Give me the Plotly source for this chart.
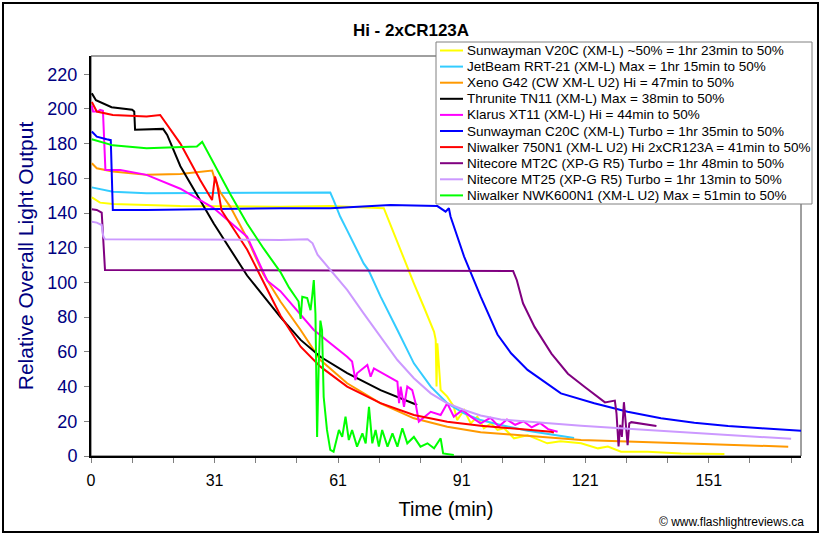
import plotly.graph_objects as go

# ---------------- data (time in minutes, relative output) ----------------
series_names = [
    "Sunwayman V20C (XM-L) ~50% = 1hr 23min to 50%",
    "JetBeam RRT-21 (XM-L) Max = 1hr 15min to 50%",
    "Xeno G42 (CW XM-L U2) Hi = 47min to 50%",
    "Thrunite TN11 (XM-L) Max = 38min to 50%",
    "Klarus XT11 (XM-L) Hi = 44min to 50%",
    "Sunwayman C20C (XM-L) Turbo = 1hr 35min to 50%",
    "Niwalker 750N1 (XM-L U2) Hi 2xCR123A = 41min to 50%",
    "Nitecore MT2C (XP-G R5) Turbo = 1hr 48min to 50%",
    "Nitecore MT25 (XP-G R5) Turbo = 1hr 13min to 50%",
    "Niwalker NWK600N1 (XM-L U2) Max = 51min to 50%",
]
series_colors = ["#FFFF00", "#33CCFF", "#FF9900", "#000000", "#FF00FF",
                 "#0000FF", "#FF0000", "#800080", "#CC99FF", "#00FF00"]

v20c_t = [0.2, 2.2, 5.3, 21.7, 46, 58.1, 71.1, 71.9, 74.4, 78.4, 80.8, 83.3, 83.7, 83.9, 84.1, 84.5,
          84.9, 86.5, 88.1, 88.9, 90.6, 92.2, 93.8, 95.4, 97.1, 98.7, 100.3, 102.7, 106, 110.8, 114,
          119, 123.1, 125.5, 128.7, 135.2, 143.3, 153.8]
v20c_v = [149, 146, 145.2, 144, 143.7, 144, 142.8, 138, 122.6, 99.5, 86, 71.6, 66.9, 40, 65, 49.6,
          38, 34.2, 28.4, 20.7, 26.5, 18.8, 22.7, 16, 18.8, 15, 16, 10.2, 12, 7.3, 8.5,
          7.3, 4.4, 5.4, 2.5, 2.5, 1.5, 1.2]

rrt21_t = [0.2, 5.3, 13.5, 46, 58.1, 58.9, 60.5, 62.2, 66.2, 67.4, 70.3, 74.4, 78.4, 82.5, 86.5,
           90.6, 94.6, 99.5, 106, 117.3]
rrt21_v = [154.8, 152.3, 151.4, 151.6, 151.8, 147.5, 138, 130, 111, 107, 92, 72.6, 53.4, 40, 30.4,
           24.6, 20.7, 17.9, 14.5, 10.4]

g42_t = [0.2, 1.4, 5.3, 13.5, 21.7, 28.6, 29.4, 30, 31.4, 33.8, 37.9, 41.8, 46, 50.9, 55.7, 62.2,
         70.3, 78.4, 86.5, 94.6, 119, 143.3, 169.3]
g42_v = [168.7, 165.8, 164, 162, 162.5, 164, 164.5, 160, 152, 143.7, 125.5, 105, 89, 72.6, 55.3, 41.9,
         30.4, 21.7, 16.9, 13.7, 9.2, 7.3, 5.4]

tn11_t = [0.2, 1.2, 5, 10, 10.5, 10.7, 17.5, 18.5, 21.7, 29.8, 37.9, 46, 50.9, 55.7, 62.2, 70.3, 79.2]
tn11_v = [209, 205, 201, 199.5, 198.5, 188, 188.5, 185, 167, 134, 104, 80, 66.9, 57.2, 47.8, 38, 29.4]

xt11_t = [0.2, 0.5, 1.7, 2.2, 2.9, 3.0, 3.4, 3.5, 7.1, 13.5, 21.7, 29.7, 37.9, 42.8, 46, 54.1, 62.2,
          63.4, 64.2, 64.6, 67.1, 67.9, 68.7, 74.4, 74.8, 75.2, 76, 76.8, 78, 78.8, 79.6, 82.5, 84.9,
          86.5, 88.1, 90.2, 92.2, 94.6, 97, 99, 101, 103, 105, 107, 109, 111, 113.3]
xt11_v = [202, 198.5, 198.5, 199.5, 199, 193.6, 166.7, 164.8, 164.8, 162, 154, 143, 126.4, 101, 95, 72.6, 57.2,
          54.4, 43.8, 47.7, 52.4, 45.7, 50.5, 42.8, 30.4, 40, 28.4, 40, 38, 30.5, 19.8, 25.5, 23.6,
          30.4, 22.7, 26.5, 22.7, 18.8, 22, 17, 21, 18, 20, 16.5, 19, 15.5, 14]

c20c_t = [0.2, 1.4, 3.8, 4.8, 5.3, 13.5, 46, 58.1, 72.7, 84.1, 86.1, 86.9, 87.3, 90.6, 94.6, 98.7,
          102, 106, 114.1, 122.2, 130.3, 138.4, 146.5, 154.7, 162.8, 172.5]
c20c_v = [187, 184, 182.5, 182, 141.8, 141.8, 142.8, 142.8, 144.7, 144, 140.8, 142.8, 138, 114.9, 92, 70,
          59.2, 49.6, 36.1, 30.4, 25.5, 21.7, 19.2, 17.3, 16, 14.6]

n750_t = [0.2, 1.4, 5.3, 13.5, 16.8, 21.7, 26.5, 29.4, 30.1, 30.6, 31.7, 37.9, 46, 50.9, 55.7, 62.2,
          70.3, 78.4, 86.5, 94.6, 111.7, 112.4]
n750_v = [204, 198.5, 196.5, 195.6, 196.5, 180, 159, 147.5, 161, 157, 141.5, 119, 81, 63, 51.5, 40,
          30.5, 23.6, 19.8, 17.4, 14, 13.5]

mt2c_t = [0.2, 1.4, 2.6, 3.0, 3.4, 102.5, 103.4, 104.9, 107.7, 111.8, 115.8, 119.9, 124, 124.8, 127.2,
          127.6, 128.1, 128.5, 128.9, 129.4, 129.7, 130.3, 130.7, 131.2, 137.3]
mt2c_v = [142.2, 141.8, 140.2, 124.5, 107.2, 106.6, 101.3, 88, 74.4, 59, 47.4, 39.8, 31.9, 30.9, 31.9,
          24.6, 5.5, 18, 11, 31, 23, 6.3, 18.8, 19.5, 17.3]

mt25_t = [0.2, 1.4, 2.6, 3.0, 3.4, 46, 52.6, 53.8, 55, 58.1, 62.2, 66.2, 70.3, 74.4, 78.4, 82.5, 86.5,
          90.6, 94.6, 99.5, 102.7, 119, 135.2, 151.4, 169.3, 170]
mt25_v = [135, 134.5, 133.1, 126.4, 124.9, 124.5, 124.9, 122.6, 116, 107.2, 95.7, 82.2, 68.8, 55.3, 44.8,
          36.1, 30.4, 26.5, 23.3, 21, 20.5, 17.5, 15, 12.7, 10.2, 9.9]

nwk600_t = [0.2, 2.2, 5.3, 13.5, 21.7, 25.7, 27, 28.1, 33.8, 37.9, 41.9, 46, 48.1, 49.7, 50.4, 50.9,
            51.3, 52.5, 53.3, 53.7, 54.1, 54.5, 54.9, 55.3, 55.7, 56.1, 56.5, 57.3, 58.1, 58.9, 60.2,
            61, 61.8, 62.6, 63.4, 64.6, 65.9, 66.7, 67.5, 68.3, 69.1, 69.9, 70.7, 72, 73.2, 74.4, 75.6,
            76.8, 78.4, 80, 81.7, 83.3, 84.9, 85.5, 88.1]
nwk600_v = [182.5, 181, 179, 177.3, 177.7, 178.3, 181, 176, 151, 134, 119.6, 106, 97, 91.5, 89, 79,
            91.8, 91, 84, 91.8, 101.4, 82, 11, 53, 78, 72.6, 34, 15, 3.5, 2.5, 15,
            11, 22.7, 9.2, 15, 5.4, 13, 7.3, 28.4, 7.3, 15, 5.4, 15, 5.4, 13, 5.4, 16,
            7.3, 11, 5.4, 7.3, 4.4, 10.2, 1.5, 0.6]

series_t = [v20c_t, rrt21_t, g42_t, tn11_t, xt11_t, c20c_t, n750_t, mt2c_t, mt25_t, nwk600_t]
series_v = [v20c_v, rrt21_v, g42_v, tn11_v, xt11_v, c20c_v, n750_v, mt2c_v, mt25_v, nwk600_v]

x_tick_vals = [0, 30, 60, 90, 120, 150]
x_tick_text = ["0", "31", "61", "91", "121", "151"]
y_tick_vals = [0, 20, 40, 60, 80, 100, 120, 140, 160, 180, 200, 220]

chart_title = "Hi - 2xCR123A"
x_title = "Time (min)"
y_title = "Relative Overall Light Output"
credit = "© www.flashlightreviews.ca"

# ---------------- layout geometry (pixels) ----------------
W, H = 822, 535
PL, PR, PT, PB = 91, 801, 56, 456          # plot area edges
PW, PH = PR - PL, PB - PT


def px(x):
    return (x - PL) / PW


def py(y):
    return (PB - y) / PH


FONT = "Liberation Sans, Arial, sans-serif"
fig = go.Figure()
for name, color, tx, vy in zip(series_names, series_colors, series_t, series_v):
    fig.add_trace(go.Scatter(x=tx, y=vy, mode="lines", name=name,
                             line=dict(color=color, width=2)))

# legend drawn as a boxed key (compact rows like the original)
LEG_L, LEG_R, LEG_T, LEG_B = 436, 812, 42, 204
ROW0, ROWH = 50.5, 16.1
shapes = [
    dict(type="rect", xref="paper", yref="paper", x0=0, x1=1, y0=0, y1=1,
         line=dict(color="#404040", width=1), layer="below"),
    dict(type="rect", xref="paper", yref="paper",
         x0=px(3), x1=px(818), y0=py(532), y1=py(3),
         line=dict(color="black", width=2)),
    dict(type="rect", xref="paper", yref="paper",
         x0=px(LEG_L), x1=px(LEG_R), y0=py(LEG_B), y1=py(LEG_T),
         line=dict(color="#808080", width=1), fillcolor="white", layer="above"),
]
annotations = [
    dict(text=credit, xref="paper", yref="paper", x=px(806), y=py(522),
         xanchor="right", yanchor="middle", showarrow=False,
         font=dict(size=12, family=FONT, color="black")),
]
for i, (name, color) in enumerate(zip(series_names, series_colors)):
    yy = ROW0 + ROWH * i
    shapes.append(dict(type="line", xref="paper", yref="paper",
                       x0=px(440), x1=px(463), y0=py(yy), y1=py(yy),
                       line=dict(color=color, width=2), layer="above"))
    annotations.append(dict(text=name, xref="paper", yref="paper", x=px(465), y=py(yy),
                            xanchor="left", yanchor="middle", showarrow=False,
                            font=dict(size=13.5, family=FONT, color="black")))

fig.update_layout(
    width=W, height=H,
    margin=dict(l=PL, r=W - PR, t=PT, b=H - PB),
    paper_bgcolor="white", plot_bgcolor="white",
    font=dict(family=FONT, color="black"),
    title=dict(text="<b>" + chart_title + "</b>", x=0.5, xanchor="center", xref="container",
               y=1 - 30 / H, yanchor="middle", yref="container",
               font=dict(size=17, family=FONT, color="black")),
    showlegend=False,
    xaxis=dict(range=[0, 172.4], tickmode="array", tickvals=x_tick_vals, ticktext=x_tick_text,
               ticks="outside", ticklen=5, tickcolor="#808080", showgrid=False, zeroline=False,
               showline=True, linecolor="black", linewidth=2, automargin=False,
               ticklabelstandoff=4,
               tickfont=dict(size=16, family=FONT, color="black"),
               minor=dict(dtick=10, tick0=0, ticks="outside", ticklen=5, tickcolor="#808080",
                          showgrid=False),
               title=dict(text=x_title, font=dict(size=20, family=FONT, color="black"), standoff=14)),
    yaxis=dict(range=[0, 230.5], tickmode="array", tickvals=y_tick_vals,
               ticks="outside", ticklen=5, tickcolor="#808080", showgrid=False, zeroline=False,
               showline=True, linecolor="black", linewidth=2, automargin=False,
               ticklabelstandoff=3,
               tickfont=dict(size=18, family=FONT, color="#000080"),
               title=dict(text=y_title, font=dict(size=21, family=FONT, color="#000080"), standoff=8)),
    shapes=shapes,
    annotations=annotations,
)

fig.write_html("out.html", config={"displayModeBar": False},
               post_script="document.body.style.margin='0';document.body.style.overflow='hidden';")
